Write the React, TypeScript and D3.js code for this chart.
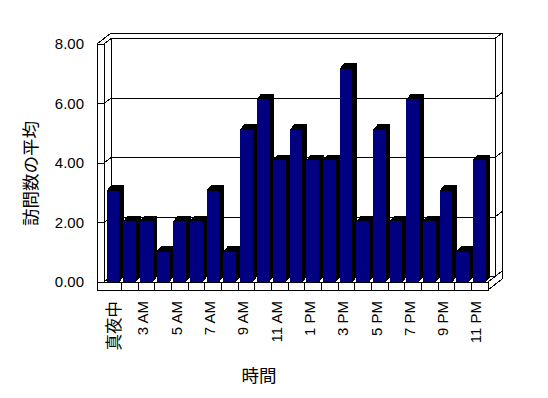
import React from "react";
import * as d3 from "d3";

// hours (one early-morning hour has no data, so 23 categories)
const hours = [
  "真夜中", "1 AM", "3 AM", "4 AM", "5 AM", "6 AM", "7 AM", "8 AM", "9 AM",
  "10 AM", "11 AM", "12 PM", "1 PM", "2 PM", "3 PM", "4 PM", "5 PM", "6 PM",
  "7 PM", "8 PM", "9 PM", "10 PM", "11 PM",
];
const visits = [3, 2, 2, 1, 2, 2, 3, 1, 5, 6, 4, 5, 4, 4, 7, 2, 5, 2, 6, 2, 3, 1, 4];
const yTicks = [0, 2, 4, 6, 8];

const width = 548,
  height = 398;

// 3d offsets of the walls and bars
const wall = [7, -5.5];
const wallOuter = [14, -11];
const barDepth = [4.7, -5.5];

const left = 97,
  plotLeft = 105,
  plotRight = 488,
  floorTop = 282,
  floorBottom = 290;

const font = "'Liberation Sans', Arial, 'Noto Sans CJK JP', sans-serif";
const cjk = "'Noto Sans CJK JP', sans-serif";

export default function App() {
  const x = d3.scaleBand().domain(hours).range([plotLeft, plotRight]).padding(0);
  const yAxis = d3.scaleLinear().domain([0, 8]).range([floorTop, 44]);
  const yBar = d3.scaleLinear().domain([0, 8]).range([floorTop, floorTop - 8 * 30.5]);
  const line = d3.line();
  const bw = x.bandwidth();

  const backL = left + wallOuter[0];
  const backR = plotRight + wall[0];
  const outerR = plotRight + wallOuter[0];
  const topFront = yAxis(8);

  const frame = [
    [left, floorBottom],
    [left, topFront],
    [left + wallOuter[0], topFront + wallOuter[1]],
    [outerR, topFront + wallOuter[1]],
    [outerR, floorBottom + wallOuter[1]],
    [plotRight, floorBottom],
  ];

  return (
    <svg
      width={width}
      height={height}
      shapeRendering="crispEdges"
      style={{ position: "absolute", left: 0, top: 0, background: "#fff" }}
    >
      <path d={line(frame as any) + "Z"} fill="#fff" stroke="#000" />
      {/* left wall inner edges */}
      <path d={line([[left + 7, topFront], [left + 7, floorTop]])!} stroke="#000" />
      <path d={line([[backL, topFront + wall[1]], [backL, floorTop + wall[1]]])!} stroke="#000" />
      <path d={line([[left + 7, topFront], [backL, topFront + wall[1]]])!} stroke="#000" fill="none" />
      {/* right side of back wall */}
      <path d={line([[backR, topFront + wall[1]], [backR, floorTop + wall[1]]])!} stroke="#000" />
      <path d={line([[plotRight, floorTop], [backR, floorTop + wall[1]]])!} stroke="#000" />
      {/* gridlines */}
      {yTicks.map((t) => {
        const yf = yAxis(t);
        const yb = yf + wall[1];
        return (
          <path
            key={t}
            d={line([[left, yf], [left + 7, yf], [backL, yb], [backR, yb], [outerR, yb + wall[1]]])!}
            fill="none"
            stroke="#000"
          />
        );
      })}
      {/* floor front */}
      <rect x={left} y={floorTop} width={plotRight - left} height={floorBottom - floorTop} fill="#fff" stroke="#000" />
      {hours.slice(1).map((h) => (
        <line key={h} x1={x(h)} x2={x(h)} y1={floorTop} y2={floorBottom} stroke="#000" />
      ))}
      {/* bars */}
      {hours.map((h, i) => {
        const x0 = x(h)! + bw * 0.1;
        const x1 = x0 + bw * 0.76;
        const y0 = yBar(visits[i]);
        const side = [
          [x1, floorTop],
          [x1, y0],
          [x0, y0],
          [x0 + barDepth[0], y0 + barDepth[1]],
          [x1 + barDepth[0], y0 + barDepth[1]],
          [x1 + barDepth[0], floorTop + barDepth[1]],
        ];
        return (
          <g key={h}>
            <path d={line(side as any) + "Z"} fill="#000" />
            <rect x={x0} y={y0} width={x1 - x0} height={floorTop - y0} fill="#000080" />
          </g>
        );
      })}
      {/* y labels */}
      {yTicks.map((t) => (
        <text key={t} x={84} y={yAxis(t)} dy="0.35em" textAnchor="end" fontFamily={font} fontSize={15}>
          {t.toFixed(2)}
        </text>
      ))}
      {/* x labels, every other hour */}
      {hours.map((h, i) =>
        i % 2 === 0 ? (
          <text
            key={h}
            transform={`translate(${x(h)! + bw / 2},301) rotate(-90)`}
            dy={i === 0 ? "0.4em" : "0.12em"}
            textAnchor="end"
            fontFamily={i === 0 ? cjk : font}
            fontSize={i === 0 ? 16.5 : 15}
          >
            {h}
          </text>
        ) : null
      )}
      <text
        transform="translate(29,173.5) rotate(-90)"
        textAnchor="middle"
        dominantBaseline="central"
        fontFamily={cjk}
        fontSize={17.5}
      >
        訪問数の平均
      </text>
      <text x={259} y={374.5} textAnchor="middle" dominantBaseline="central" fontFamily={cjk} fontSize={17.5}>
        時間
      </text>
    </svg>
  );
}
